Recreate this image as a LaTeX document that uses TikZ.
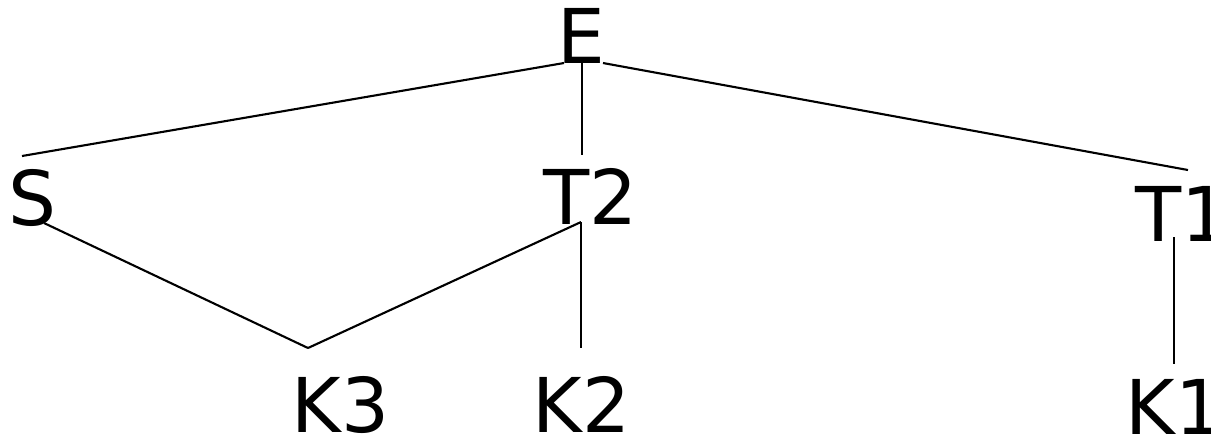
\documentclass[tikz,border=0pt]{standalone}
\usepackage{fontspec}
\setmainfont{DejaVu Sans}
\tikzset{lbl/.style={anchor=base west, inner sep=0pt, font=\fontsize{21.5}{26}\selectfont},
  edge/.style={line width=0.6pt}}
\begin{document}
\begin{tikzpicture}[x=0.1mm, y=-0.1mm]
\useasboundingbox (0,0) rectangle (1211,437);
\node[lbl] (e) at (557,63) {E};
\node[lbl] (s) at (8,225) {S};
\node[lbl] (t2) at (543,224) {T2};
\node[lbl] (t1) at (1135,241) {T1};
\node[lbl] (k3) at (291,432) {K3};
\node[lbl] (k2) at (532,432) {K2};
\node[lbl] (k1) at (1125,434) {K1};
% attach points
\coordinate (e-l) at (564,63);
\coordinate (e-m) at (582,63);
\coordinate (e-r) at (603,63);
\coordinate (s-top) at (22,156);
\coordinate (s-bot) at (44,223);
\coordinate (t2-top) at (582,155);
\coordinate (t2-bot) at (581,222);
\coordinate (t1-top) at (1188,170);
\coordinate (t1-bot) at (1174,237);
\coordinate (k3-top) at (308,348);
\coordinate (k2-top) at (581,348);
\coordinate (k1-top) at (1174,364);
\draw[edge] (e-l) -- (s-top);
\draw[edge] (e-m) -- (t2-top);
\draw[edge] (e-r) -- (t1-top);
\draw[edge] (s-bot) -- (k3-top);
\draw[edge] (t2-bot) -- (k3-top);
\draw[edge] (t2-bot) -- (k2-top);
\draw[edge] (t1-bot) -- (k1-top);
\end{tikzpicture}
\end{document}
